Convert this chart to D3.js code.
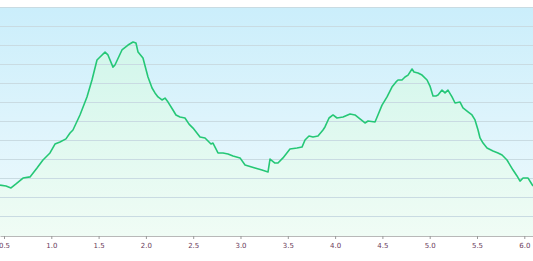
<!DOCTYPE html>
<html><head><meta charset="utf-8">
<script src="https://cdn.jsdelivr.net/npm/d3@7/dist/d3.min.js"></script>
<style>html,body{margin:0;padding:0;background:#fff;}svg{display:block;}</style>
</head><body>
<svg id="chart" width="533" height="261"></svg>
<script>
const distance = [0.458,0.521,0.574,0.627,0.701,0.775,0.849,0.912,0.986,1.039,1.092,1.155,1.198,1.229,1.303,1.377,1.430,1.483,1.515,1.568,1.599,1.652,1.673,1.747,1.811,1.864,1.895,1.917,1.969,2.022,2.065,2.096,2.128,2.170,2.202,2.234,2.286,2.318,2.360,2.413,2.456,2.498,2.572,2.625,2.688,2.709,2.762,2.815,2.868,2.921,2.995,3.048,3.153,3.227,3.291,3.312,3.364,3.396,3.449,3.523,3.597,3.650,3.682,3.724,3.766,3.819,3.872,3.893,3.936,3.978,4.020,4.084,4.158,4.210,4.263,4.316,4.348,4.422,4.453,4.496,4.549,4.601,4.644,4.665,4.707,4.739,4.771,4.813,4.834,4.876,4.919,4.972,5.003,5.035,5.066,5.088,5.130,5.162,5.193,5.236,5.268,5.321,5.352,5.405,5.447,5.479,5.511,5.532,5.564,5.606,5.669,5.722,5.765,5.817,5.881,5.923,5.955,5.987,6.040,6.072,6.092];
const elevation = [268,263,253,274,305,311,358,400,437,484,495,511,542,558,637,732,821,926,942,968,953,889,900,979,1005,1021,1016,968,937,837,779,753,732,716,726,705,663,637,626,621,589,568,521,516,484,489,437,437,432,421,411,374,358,347,337,405,384,384,411,458,463,468,505,526,521,526,558,574,621,637,621,626,642,637,616,595,605,600,637,689,732,784,811,821,821,837,847,879,863,858,847,821,789,737,737,742,768,753,768,732,700,705,674,653,637,611,558,516,489,463,447,437,426,400,347,316,289,305,305,279,263];
const xTicks = [0.5,1.0,1.5,2.0,2.5,3.0,3.5,4.0,4.5,5.0,5.5,6.0];
const gridLevels = [100,200,300,400,500,600,700,800,900,1000,1100,1200];

const W = 533, plotTop = 8, plotBottom = 236;
const svg = d3.select("#chart");
const x = d3.scaleLinear().domain([0.4577, 6.092]).range([0, W]);
const y = d3.scaleLinear().domain([0, 1200]).range([plotBottom, plotTop]);
const data = distance.map((d, i) => ({d, e: elevation[i]}));

const defs = svg.append("defs");
const bg = defs.append("linearGradient").attr("id","bg").attr("x1",0).attr("y1",0).attr("x2",0).attr("y2",1);
bg.append("stop").attr("offset","0%").attr("stop-color","#cbeefb");
bg.append("stop").attr("offset","100%").attr("stop-color","#f0fafd");
const ag = defs.append("linearGradient").attr("id","ag").attr("gradientUnits","userSpaceOnUse")
  .attr("x1",0).attr("y1",plotTop).attr("x2",0).attr("y2",plotBottom);
ag.append("stop").attr("offset","0%").attr("stop-color","#ccf5e9");
ag.append("stop").attr("offset","100%").attr("stop-color","#f0fcf5");

svg.append("rect").attr("x",0).attr("y",plotTop).attr("width",W).attr("height",plotBottom-plotTop).attr("fill","url(#bg)");

svg.append("path").datum(data)
  .attr("fill","url(#ag)")
  .attr("d", d3.area().x(p => x(p.d)).y0(plotBottom).y1(p => y(p.e)));

svg.append("g").selectAll("line").data(gridLevels).join("line")
  .attr("x1",0).attr("x2",W)
  .attr("y1", v => Math.round(y(v)) - 0.5).attr("y2", v => Math.round(y(v)) - 0.5)
  .attr("stroke","#c9dbe2").attr("stroke-width",1.2);

svg.append("path").datum(data)
  .attr("fill","none").attr("stroke","#25c776").attr("stroke-width",1.6).attr("stroke-linejoin","round")
  .attr("d", d3.line().x(p => x(p.d)).y(p => y(p.e)));

const axis = d3.axisBottom(x).tickValues(xTicks).tickFormat(d3.format(".1f")).tickSize(3).tickSizeOuter(0);
const axG = svg.append("g").attr("transform",`translate(0,${plotBottom})`).call(axis);
axG.select(".domain").attr("stroke","#b8b8b8");
axG.selectAll(".tick line").attr("stroke","#999");
axG.selectAll(".tick text").attr("fill","#6b3b5b").attr("font-size","7px").attr("font-family","DejaVu Sans, Verdana, sans-serif").attr("dy","0.9em");
</script>
</body></html>
